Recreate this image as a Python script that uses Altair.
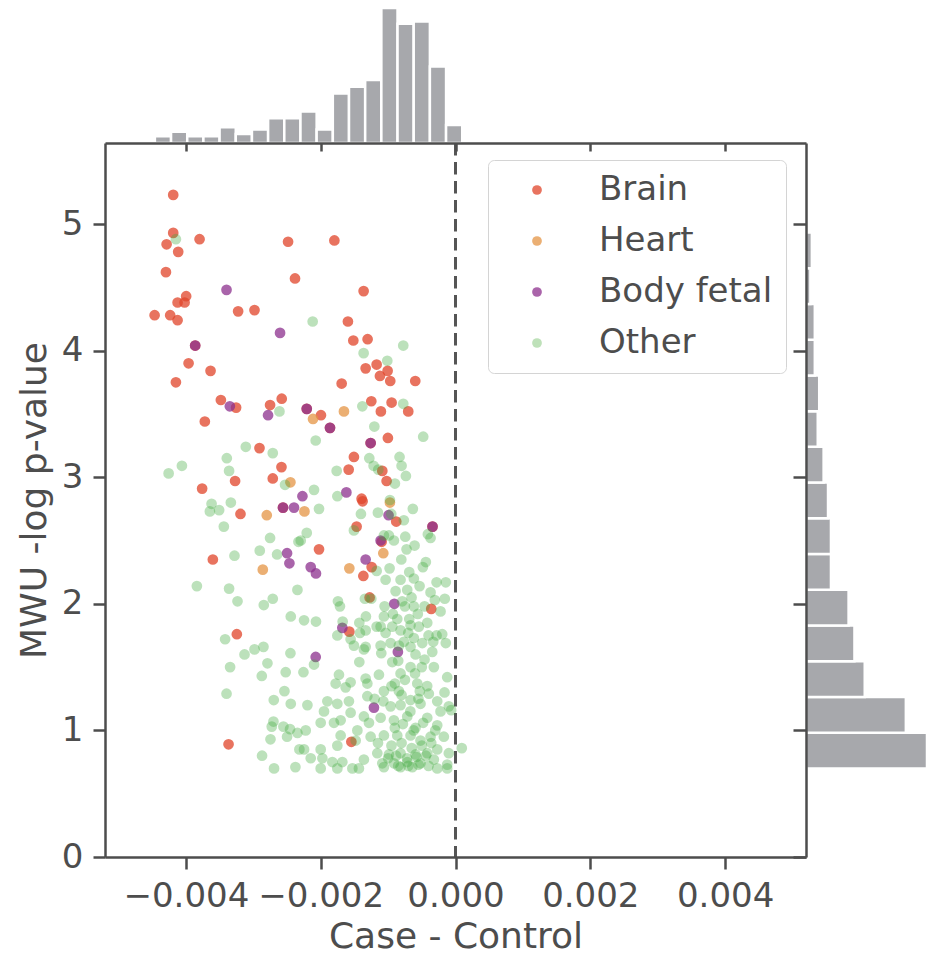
import altair as alt
import pandas as pd

FONT = "DejaVu Sans"
TEXT = "#4d4d4d"
GREY = "#a7a8ac"
W, H = 701, 714
X_DOM = [-0.0052, 0.0052]
Y_DOM = [0, 5.64]

categories = ["Brain", "Heart", "Body fetal", "Other"]
cat_colors = ["#e04429", "#e49444", "#8c308e", "#3fa83c"]
cat_opacity = [0.75, 0.75, 0.75, 0.35]
legend_colors = ["#e8735f", "#ebaf73", "#aa64aa", "#bee1b9"]

# (Case - Control in units of 1e-3, MWU -log p-value)
brain_pts = [
    (-4.188, 5.23), (-4.188, 4.93), (-4.286, 4.84), (-3.797, 4.88), (-4.114, 4.78),
    (-2.484, 4.86), (-4.296, 4.62), (-2.381, 4.57), (-3.996, 4.43), (-4.123, 4.38),
    (-4.019, 4.38), (-4.464, 4.28), (-4.233, 4.28), (-4.123, 4.24), (-3.225, 4.31),
    (-2.982, 4.32), (-1.797, 4.87), (-1.363, 4.47), (-1.596, 4.23), (-3.862, 4.04),
    (-3.960, 3.90), (-3.634, 3.84), (-4.148, 3.75), (-3.481, 3.61), (-3.255, 3.55),
    (-2.578, 3.62), (-2.751, 3.57), (-3.719, 3.44), (-2.908, 3.23), (-2.582, 3.08),
    (-3.270, 2.97), (-2.711, 2.99), (-3.759, 2.91), (-1.516, 4.08), (-1.304, 4.09),
    (-1.170, 3.89), (-1.333, 3.86), (-1.007, 3.84), (-1.121, 3.80), (-0.968, 3.76),
    (-0.597, 3.76), (-1.689, 3.74), (-1.249, 3.60), (-0.948, 3.59), (-1.107, 3.52),
    (-0.701, 3.52), (-2.207, 3.54), (-1.996, 3.49), (-1.862, 3.39), (-1.259, 3.27),
    (-1.003, 3.31), (-1.507, 3.16), (-1.585, 3.06), (-1.086, 3.05), (-1.022, 2.97),
    (-3.190, 2.71), (-2.559, 2.76), (-3.600, 2.35), (-3.244, 1.76), (-3.367, 0.89),
    (-1.393, 2.83), (-1.378, 2.81), (-0.879, 2.65), (-0.341, 2.61), (-1.467, 2.61),
    (-1.096, 2.49), (-2.025, 2.43), (-1.244, 2.29), (-1.367, 2.22), (-1.274, 2.05),
    (-0.360, 1.96), (-1.575, 1.78), (-1.545, 0.91),
]
heart_pts = [
    (-2.449, 2.96), (-2.114, 3.46), (-1.655, 3.52), (-2.800, 2.70), (-2.859, 2.27),
    (-2.241, 2.73), (-0.973, 2.80), (-1.071, 2.40), (-1.575, 2.28),
]
fetal_pts = [
    (-3.397, 4.48), (-2.603, 4.14), (-3.348, 3.56), (-2.781, 3.49), (-1.619, 2.88),
    (-2.396, 2.76), (-2.271, 2.85), (-2.499, 2.40), (-2.464, 2.32), (-0.993, 2.70),
    (-1.111, 2.50), (-1.333, 2.35), (-2.148, 2.29), (-2.070, 2.24), (-0.908, 2.00),
    (-1.679, 1.81), (-2.074, 1.58), (-0.855, 1.62), (-1.210, 1.18),
    (-3.862, 4.04), (-2.207, 3.54), (-1.862, 3.39), (-1.259, 3.27), (-2.559, 2.76),
    (-0.341, 2.61),
]
other_pts = [
    (-4.148, 4.88), (-2.119, 4.23), (-2.612, 3.52), (-3.111, 3.24), (-2.711, 3.19),
    (-3.393, 3.15), (-4.059, 3.09), (-4.256, 3.03), (-3.359, 3.05), (-2.529, 2.94),
    (-0.775, 4.04), (-1.363, 3.98), (-1.012, 3.92), (-1.382, 3.56), (-0.775, 3.58),
    (-1.204, 3.40), (-2.074, 3.29), (-0.479, 3.32), (-1.279, 3.15), (-0.830, 3.16),
    (-1.763, 3.05), (-1.215, 3.09), (-1.145, 3.06), (-0.800, 3.09), (-0.736, 3.01),
    (-0.899, 2.95), (-2.099, 2.90), (-3.619, 2.79), (-3.644, 2.73), (-3.507, 2.74),
    (-3.333, 2.80), (-3.437, 2.61), (-2.751, 2.52), (-2.904, 2.42), (-2.647, 2.39),
    (-3.279, 2.38), (-3.837, 2.14), (-3.359, 2.12), (-3.234, 2.02), (-2.844, 1.99),
    (-2.711, 2.04), (-2.444, 1.90), (-3.418, 1.72), (-2.982, 1.64), (-2.849, 1.66),
    (-2.330, 2.49), (-2.345, 2.11), (-3.130, 1.60), (-2.449, 1.61), (-3.344, 1.50),
    (-2.790, 1.53), (-2.874, 1.43), (-2.519, 1.46), (-3.397, 1.29), (-2.538, 1.31),
    (-2.696, 1.24), (-2.444, 1.21), (-2.701, 1.07), (-2.726, 1.03), (-2.553, 1.03),
    (-2.455, 1.01), (-2.499, 0.95), (-2.345, 0.98), (-2.745, 0.93), (-2.870, 0.80),
    (-2.692, 0.70), (-2.375, 0.71), (-2.316, 0.85),
    (-1.753, 2.85), (-0.973, 2.82), (-2.025, 2.75), (-1.403, 2.71), (-1.151, 2.72),
    (-0.953, 2.71), (-0.766, 2.66), (-0.633, 2.75), (-0.410, 2.55), (-0.370, 2.52),
    (-1.507, 2.58), (-2.207, 2.56), (-2.296, 2.50), (-1.062, 2.54), (-0.988, 2.54),
    (-0.914, 2.50), (-0.745, 2.53), (-0.607, 2.46), (-0.726, 2.43), (-1.170, 2.26),
    (-0.978, 2.28), (-0.804, 2.35), (-0.484, 2.29), (-0.440, 2.33), (-0.686, 2.25),
    (-0.618, 2.20), (-0.815, 2.19), (-1.037, 2.19), (-0.281, 2.17), (-0.144, 2.17),
    (-0.533, 2.14), (-0.889, 2.10), (-0.716, 2.11), (-0.370, 2.09), (-1.249, 2.04),
    (-1.344, 2.04), (-1.744, 2.02), (-1.714, 1.98), (-1.052, 1.98), (-0.790, 2.02),
    (-0.652, 2.05), (-0.618, 1.98), (-0.751, 1.98), (-0.459, 1.98), (-0.307, 2.03),
    (-0.159, 2.04), (-0.222, 1.94), (-1.062, 1.90), (-0.929, 1.92), (-0.864, 1.88),
    (-0.686, 1.88), (-0.559, 1.92), (-1.329, 1.90), (-2.247, 1.87), (-2.070, 1.86),
    (-1.674, 1.86), (-1.427, 1.85), (-1.753, 1.75), (-1.556, 1.72), (-1.418, 1.77),
    (-1.333, 1.79), (-1.170, 1.82), (-1.111, 1.82), (-1.037, 1.77), (-0.938, 1.82),
    (-0.815, 1.79), (-0.701, 1.77), (-0.667, 1.83), (-0.544, 1.82), (-0.419, 1.85),
    (-0.400, 1.75), (-0.281, 1.75), (-0.197, 1.76), (-0.144, 1.69), (-0.330, 1.70),
    (-0.493, 1.69), (-0.618, 1.73), (-0.766, 1.70), (-0.840, 1.67), (-0.963, 1.69),
    (-1.111, 1.67), (-1.333, 1.66), (-1.507, 1.67),
    (-2.099, 1.52), (-2.256, 1.46), (-1.427, 1.54), (-1.359, 1.64), (-1.101, 1.61),
    (-0.938, 1.54), (-0.667, 1.66), (-0.593, 1.60), (-0.459, 1.56), (-0.345, 1.62),
    (-0.321, 1.50), (-0.123, 1.42), (-0.667, 1.50), (-0.815, 1.45), (-1.729, 1.44),
    (-1.778, 1.37), (-1.630, 1.34), (-1.556, 1.38), (-1.333, 1.41), (-1.308, 1.37),
    (-1.136, 1.44), (-1.062, 1.31), (-0.899, 1.37), (-0.840, 1.31), (-0.567, 1.37),
    (-0.529, 1.31), (-0.396, 1.29), (-0.163, 1.30), (-2.197, 1.20), (-1.901, 1.23),
    (-1.753, 1.21), (-1.581, 1.23), (-1.308, 1.27), (-1.071, 1.23), (-0.963, 1.19),
    (-0.815, 1.20), (-0.667, 1.24), (-0.519, 1.21), (-0.271, 1.23), (-0.099, 1.19),
    (-0.064, 1.16), (-1.951, 1.15), (-1.704, 1.08), (-1.556, 1.14), (-1.359, 1.11),
    (-1.284, 1.06), (-1.111, 1.10), (-0.914, 1.08), (-0.716, 1.11), (-0.593, 1.02),
    (-0.419, 1.10), (-0.222, 1.15), (-0.271, 1.04), (-2.222, 1.00), (-2.000, 1.06),
    (-1.803, 1.06), (-1.704, 0.96), (-1.456, 1.00), (-1.481, 0.92), (-1.753, 0.88),
    (-1.259, 0.95), (-1.062, 0.96), (-0.864, 0.96), (-0.667, 0.96), (-0.519, 0.92),
    (-0.370, 0.95), (-0.173, 0.95), (0.093, 0.86), (-2.247, 0.85), (-2.000, 0.85),
    (-1.160, 0.82), (-0.988, 0.81), (-0.815, 0.82), (-0.593, 0.81), (-0.419, 0.82),
    (-0.271, 0.85), (-0.099, 0.82), (-2.148, 0.78), (-1.975, 0.78), (-1.827, 0.75),
    (-1.679, 0.75), (-1.359, 0.77), (-1.086, 0.74), (-0.914, 0.74), (-0.716, 0.75),
    (-0.519, 0.74), (-0.321, 0.77), (-0.123, 0.73), (-2.000, 0.70), (-1.753, 0.70),
    (-1.530, 0.70), (-1.433, 0.70), (-1.062, 0.71), (-0.815, 0.71), (-0.641, 0.71),
    (-0.271, 0.70), (-0.123, 0.70),
    (-0.95, 0.88), (-0.88, 0.80), (-0.80, 0.90), (-0.72, 0.78), (-0.65, 0.86),
    (-0.58, 0.79), (-0.50, 0.88), (-0.44, 0.80), (-0.90, 1.02), (-0.78, 1.05),
    (-0.62, 1.00), (-0.48, 1.06), (-0.36, 0.90), (-0.30, 1.00), (-0.85, 0.72),
    (-0.70, 0.72), (-0.55, 0.73), (-0.40, 0.72), (-1.00, 0.78), (-1.15, 0.90),
    (-0.67, 1.15), (-0.80, 1.28), (-0.55, 1.25), (-0.95, 1.35), (-0.42, 1.35),
    (-0.60, 1.45), (-1.20, 1.25), (-0.75, 1.40), (-0.85, 1.55), (-0.50, 1.50),
]

# marginal histograms (counts)
top_bin_start = -0.00446
top_bin_width = 0.00024
top_counts = [3, 5, 3, 3, 7, 4, 6, 11, 11, 14, 6, 22, 25, 28, 60, 53, 54, 34, 8]

right_bin_start = 0.70
right_bin_width = 0.2822
right_counts = [93, 68, 40, 33, 29, 17, 17, 15, 12, 8, 9, 6, 6, 3, 4]

x_ticks = [-0.004, -0.002, 0.0, 0.002, 0.004]
y_ticks = [0, 1, 2, 3, 4, 5]

rows = []
for cat, alpha, pts in zip(categories, cat_opacity, [brain_pts, heart_pts, fetal_pts, other_pts]):
    for dx, mwu in pts:
        rows.append({"diff": dx / 1000.0, "mwu": mwu, "tissue": cat, "alpha": alpha})
scatter_df = pd.DataFrame(rows)

top_df = pd.DataFrame({
    "start": [top_bin_start + i * top_bin_width for i in range(len(top_counts))],
    "end": [top_bin_start + (i + 1) * top_bin_width for i in range(len(top_counts))],
    "count": top_counts,
})
right_df = pd.DataFrame({
    "start": [right_bin_start + i * right_bin_width for i in range(len(right_counts))],
    "end": [right_bin_start + (i + 1) * right_bin_width for i in range(len(right_counts))],
    "count": right_counts,
})

axis_style = dict(
    labelFont=FONT, titleFont=FONT, labelColor=TEXT, titleColor=TEXT,
    labelFontSize=34, titleFontSize=36, titleFontWeight="normal",
    tickColor=TEXT, tickWidth=2.5, tickSize=12, domainColor=TEXT, domainWidth=2.5,
    labelPadding=10, grid=False, zindex=1, labelFlush=False, labelOverlap=False,
)

xscale = alt.Scale(domain=X_DOM, nice=False, zero=False)
yscale = alt.Scale(domain=Y_DOM, nice=False, zero=False)

scatter = alt.Chart(scatter_df).mark_circle(size=115).encode(
    x=alt.X("diff:Q", scale=xscale,
            axis=alt.Axis(orient="bottom", title="Case - Control", values=x_ticks, format=".3f",
                          titlePadding=6, **axis_style)),
    y=alt.Y("mwu:Q", scale=yscale,
            axis=alt.Axis(orient="left", title="MWU -log p-value", values=y_ticks, format="d",
                          titlePadding=8, **axis_style)),
    color=alt.Color("tissue:N", scale=alt.Scale(domain=categories, range=cat_colors), legend=None),
    opacity=alt.Opacity("alpha:Q", scale=None, legend=None),
)

# carries the legend only (no rows drawn); symbols show the light look of the points
legend_layer = alt.Chart(scatter_df).mark_circle().encode(
    x=alt.X("diff:Q", scale=xscale, axis=None),
    y=alt.Y("mwu:Q", scale=yscale, axis=None),
    color=alt.Color("tissue:N", sort=categories,
                    scale=alt.Scale(domain=categories, range=legend_colors),
                    legend=alt.Legend(
                        title=None, orient="none", legendX=383, legendY=17,
                        labelFont=FONT, labelFontSize=34, labelColor=TEXT, labelLimit=400,
                        symbolType="circle", symbolSize=95, symbolStrokeWidth=0,
                        symbolOpacity=1, rowPadding=17, padding=13,
                        symbolOffset=19, labelOffset=45,
                        fillColor="white", strokeColor="#d4d4d4", cornerRadius=6)),
).transform_filter("datum.mwu < 0")

zero_rule = alt.Chart(pd.DataFrame({"x": [0.0]})).mark_rule(
    strokeDash=[12.5, 6.5], strokeWidth=3, color="#555555"
).encode(
    x=alt.X("x:Q", scale=xscale, axis=None),
    y=alt.value(0),
    y2=alt.value(H),
)

marg_axis = dict(tickColor=TEXT, tickWidth=2.5, domainColor=TEXT, domainWidth=2.5,
                 labels=False, title=None, grid=False, zindex=1)

top_hist = alt.Chart(top_df).mark_rect(color=GREY, stroke="white", strokeWidth=2.5).encode(
    x=alt.X("start:Q", scale=xscale,
            axis=alt.Axis(orient="bottom", offset=-H, values=x_ticks, tickSize=8, **marg_axis)),
    x2="end:Q",
    y=alt.Y("count:Q", scale=alt.Scale(domain=[0, 63.6], range=[0, -143], nice=False), axis=None),
    y2=alt.datum(0),
)

right_hist = alt.Chart(right_df).mark_rect(color=GREY, stroke="white", strokeWidth=2.5).encode(
    x=alt.X("count:Q", scale=alt.Scale(domain=[0, 82.4], range=[W, W + 121], nice=False, clamp=True),
            axis=None),
    x2=alt.datum(0),
    y=alt.Y("start:Q", scale=yscale,
            axis=alt.Axis(orient="left", offset=-W, values=y_ticks, tickSize=13, **marg_axis)),
    y2="end:Q",
)

chart = alt.layer(top_hist, right_hist, zero_rule, scatter, legend_layer).resolve_scale(
    x="independent", y="independent", color="independent"
).properties(
    width=W, height=H,
    autosize=alt.AutoSizeParams(type="none"),
    padding={"left": 105, "top": 143, "right": 121, "bottom": 99},
).configure_view(stroke=None).configure_legend(strokeWidth=2).configure(background="white")

chart.save("out.html", embed_options={"renderer": "svg", "actions": False})
